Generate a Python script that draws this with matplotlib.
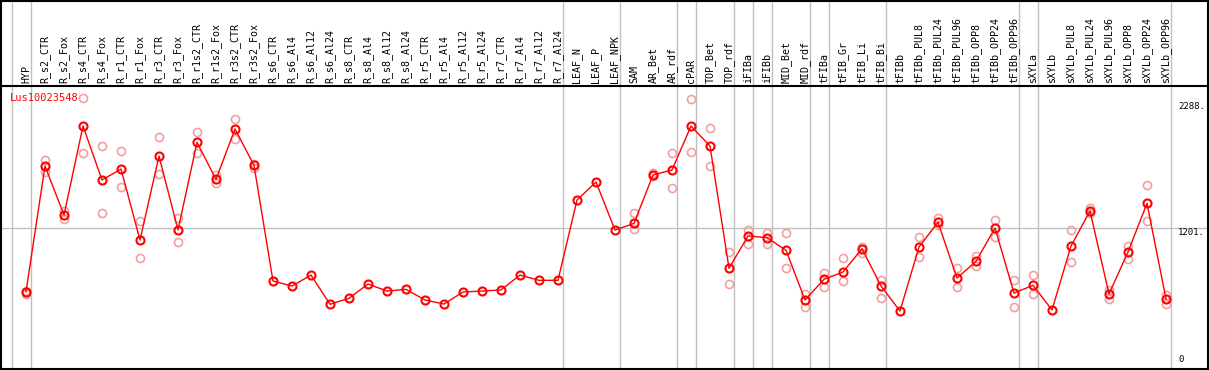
import matplotlib
matplotlib.use("Agg")
import matplotlib.pyplot as plt
import matplotlib.transforms as mtransforms
from matplotlib.patches import Rectangle
import numpy as np

# sample names (x categories)
samples = ["HYP", "R_s2_CTR", "R_s2_Fox", "R_s4_CTR", "R_s4_Fox", "R_r1_CTR", "R_r1_Fox",
           "R_r3_CTR", "R_r3_Fox", "R_r1s2_CTR", "R_r1s2_Fox", "R_r3s2_CTR", "R_r3s2_Fox",
           "R_s6_CTR", "R_s6_Al4", "R_s6_Al12", "R_s6_Al24", "R_s8_CTR", "R_s8_Al4",
           "R_s8_Al12", "R_s8_Al24", "R_r5_CTR", "R_r5_Al4", "R_r5_Al12", "R_r5_Al24",
           "R_r7_CTR", "R_r7_Al4", "R_r7_Al12", "R_r7_Al24", "LEAF_N", "LEAF_P", "LEAF_NPK",
           "SAM", "AR_Bet", "AR_rdf", "cPAR", "TOP_Bet", "TOP_rdf", "iFIBa", "iFIBb",
           "MID_Bet", "MID_rdf", "tFIBa", "tFIB_Gr", "tFIB_Li", "tFIB_Bi", "tFIBb",
           "tFIBb_PUL8", "tFIBb_PUL24", "tFIBb_PUL96", "tFIBb_OPP8", "tFIBb_OPP24",
           "tFIBb_OPP96", "sXYLa", "sXYLb", "sXYLb_PUL8", "sXYLb_PUL24", "sXYLb_PUL96",
           "sXYLb_OPP8", "sXYLb_OPP24", "sXYLb_OPP96"]

# mean expression
mean_vals = [666, 1721, 1310, 2057, 1604, 1696, 1100, 1805, 1184, 1920, 1610, 2032, 1727,
             756, 714, 806, 561, 611, 731, 672, 686, 597, 563, 664, 672, 681, 806, 762, 762,
             1436, 1587, 1184, 1240, 1646, 1688, 2057, 1889, 863, 1134, 1120, 1014, 597,
             770, 832, 1027, 714, 504, 1042, 1249, 781, 921, 1201, 655, 720, 513, 1050,
             1344, 647, 1000, 1408, 605]

nan = np.nan
# replicate values (two per sample, nan where hidden under the mean)
rep1 = [672, 1772, 1346, 2292, 1889, 1847, 1260, 1965, 1287, 2007, 1646, 2116, 1738,
        nan, nan, nan, nan, nan, nan, nan, nan, nan, nan, nan, nan, nan, nan, nan, nan,
        nan, nan, nan, 1324, 1665, 1828, 2281, 2038, 1002, 1184, 1157, 1162, 647,
        826, 947, 1039, 762, nan, 1123, 1282, 863, 968, 1268, 762, 804, nan, 1184,
        1366, 681, 1050, 1559, 636]
rep2 = [647, 1674, 1277, 1831, 1324, 1543, 947, 1652, 1081, 1828, 1576, 1946, 1707,
        nan, nan, nan, nan, nan, nan, nan, nan, nan, nan, nan, nan, nan, nan, nan, nan,
        nan, nan, nan, 1190, 1637, 1534, 1836, 1724, 728, 1069, 1069, 863, 540,
        708, 756, 989, 611, nan, 955, 1226, 703, 885, 1128, 540, 644, nan, 913,
        1324, 603, 938, 1257, 566]

# group separators: after these sample indices
group_ends = [-1, 0, 28, 31, 34, 35, 37, 38, 39, 41, 42, 45, 52, 53, 60]

gene = "Lus10023548"
ref_ticks = [0, 1201, 2288]
ref_text_pos = [60, 1201, 2259]   # where each right-hand label sits

W, H = 1209, 370
fig = plt.figure(figsize=(W / 100, H / 100), dpi=100)
top_px, bot_px, left_px, right_px = 86, 368, 1, 1207
ax = fig.add_axes([left_px / W, 1 - bot_px / H, (right_px - left_px) / W, (bot_px - top_px) / H])

x = np.arange(len(samples))
ax.set_xlim(-25 / 19, 60 + 41 / 19)
ax.set_ylim(26, 2393)

mono = "DejaVu Sans Mono"
ext = 1 + top_px / (bot_px - top_px)

# vertical separators (run up through the header)
for g in group_ends:
    ax.axvline(g + 0.25, ymin=0, ymax=ext, color="#c0c0c0", lw=1, clip_on=False, zorder=1)
ax.axhline(1201, color="#c0c0c0", lw=1, zorder=1)

ax.plot(x, rep1, "o", ms=5.8, mfc="none", mec="#f0a0a0", mew=1.2, zorder=2)
ax.plot(x, rep2, "o", ms=5.8, mfc="none", mec="#f0a0a0", mew=1.2, zorder=2)
ax.plot(x, mean_vals, "-", color="red", lw=1.0, marker="o", ms=5.8, mfc="none",
        mec="red", mew=1.5, zorder=3)

# rotated sample labels in the header
trans = mtransforms.blended_transform_factory(ax.transData, ax.transAxes)
for i, s in enumerate(samples):
    ax.text(i, 1.01, s, rotation=90, ha="center", va="bottom", transform=trans,
            family=mono, fontsize=7.2, clip_on=False)

ax.text(0.007, 0.975, gene, transform=ax.transAxes, color="red", family=mono,
        fontsize=7.5, ha="left", va="top")

# value labels on the right
for v, yv in zip(ref_ticks, ref_text_pos):
    ax.text(60.63, yv, f"{v}." if v else "0", family=mono, fontsize=6.5,
            ha="left", va="top" if v else "bottom")

for sp in ["left", "right", "bottom"]:
    ax.spines[sp].set_visible(False)
ax.spines["top"].set_linewidth(1.5)
ax.set_xticks([])
ax.set_yticks([])

fig.patches.append(Rectangle((1 / W, 1 / H), 1207 / W, 368 / H, transform=fig.transFigure,
                             fill=False, ec="black", lw=1.5))

fig.savefig("out.png", dpi=100)
